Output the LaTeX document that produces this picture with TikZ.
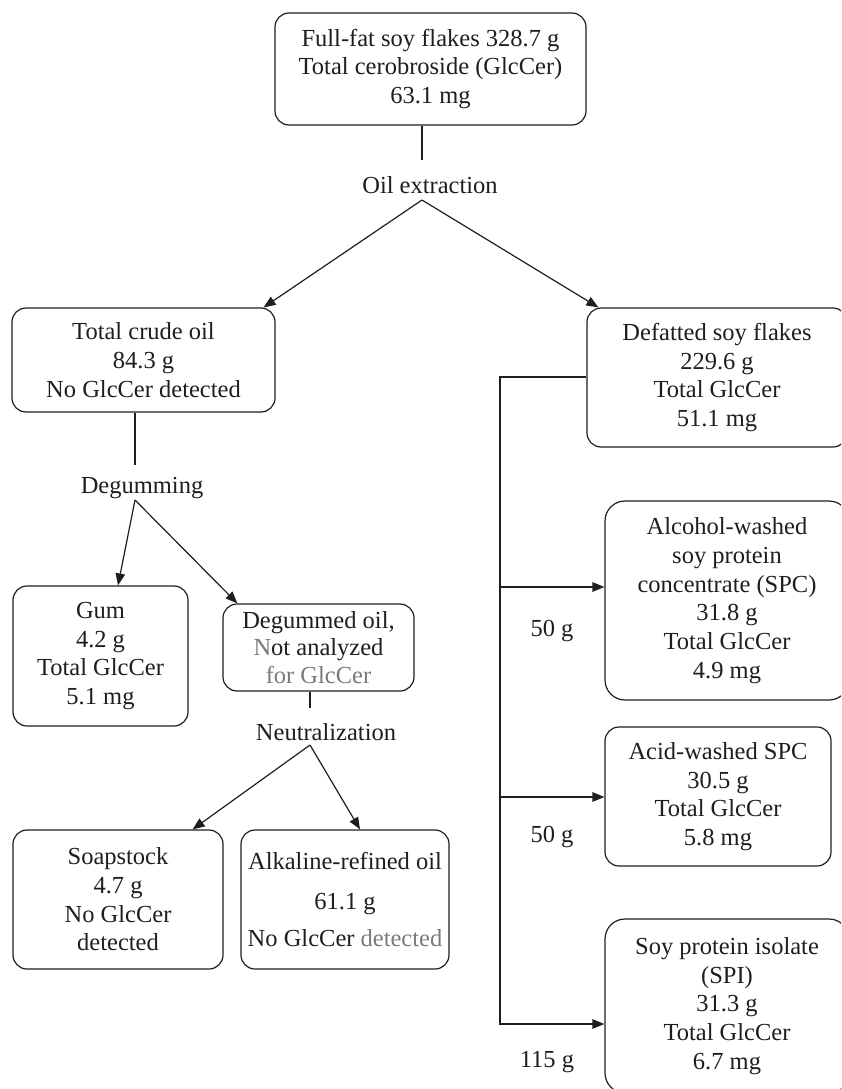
\documentclass[tikz,border=0pt]{standalone}
\usepackage{fontspec}
\setmainfont{Liberation Serif}
\usetikzlibrary{arrows.meta}
\definecolor{ink}{HTML}{1E1E1E}
\definecolor{lightink}{HTML}{7A7A7A}
\begin{document}
\begin{tikzpicture}[x=1pt,y=-1pt,
  every node/.style={text=ink, font=\fontsize{24.5pt}{28.7pt}\selectfont},
  box/.style={draw=ink, line width=1.2pt, rounded corners=14pt, align=center, inner sep=0pt},
  lbl/.style={inner sep=0pt, align=center},
  conn/.style={draw=ink, line width=1.2pt},
  arr/.style={conn, -{Triangle[length=12pt,width=9.5pt]}}]
\useasboundingbox (0,0) rectangle (841,1089);
\clip (0,0) rectangle (841,1089);

% boxes
\node[box, minimum width=311pt, minimum height=112pt] (top) at (430.5,69)
  {Full-fat soy flakes 328.7 g\\Total cerobroside (GlcCer)\\63.1 mg};
\node[box, minimum width=263pt, minimum height=104pt] (crude) at (143.5,360)
  {Total crude oil\\84.3 g\\No GlcCer detected};
\node[box, minimum width=260pt, minimum height=139pt] (defat) at (717,377.5)
  {Defatted soy flakes\\229.6 g\\Total GlcCer\\51.1 mg};
\node[box, minimum width=175pt, minimum height=140pt] (gum) at (100.5,656)
  {Gum\\4.2 g\\Total GlcCer\\5.1 mg};
\node[box, minimum width=191pt, minimum height=87pt, font=\fontsize{24.5pt}{27.5pt}\selectfont] (degum) at (318.5,647.5)
  {Degummed oil,\\{\color{lightink}N}ot analyzed\\{\color{lightink}for GlcCer}};
\node[box, minimum width=210pt, minimum height=139pt] (soap) at (118,899.5)
  {Soapstock\\4.7 g\\No GlcCer\\detected};
\node[box, minimum width=208pt, minimum height=139pt] (alk) at (345,899.5)
  {Alkaline-refined oil\\[11pt]61.1 g\\[9pt]No GlcCer {\color{lightink}detected}};
\node[box, rounded corners=20pt, minimum width=244pt, minimum height=199pt] (spc) at (727,600.5)
  {Alcohol-washed\\soy protein\\concentrate (SPC)\\31.8 g\\Total GlcCer\\4.9 mg};
\node[box, minimum width=226pt, minimum height=139pt] (acid) at (718,796.5)
  {Acid-washed SPC\\30.5 g\\Total GlcCer\\5.8 mg};
\node[box, rounded corners=20pt, minimum width=244pt, minimum height=174pt] (spi) at (727,1006)
  {Soy protein isolate\\(SPI)\\31.3 g\\Total GlcCer\\6.7 mg};

% process labels
\node[lbl] (oil) at (430,185) {Oil extraction};
\node[lbl] (degumming) at (142,488) {Degumming};
\node[lbl] (neut) at (326,732) {Neutralization};

% mass labels
\node[lbl] (w1) at (552,631) {50 g};
\node[lbl] (w2) at (552,837) {50 g};
\node[lbl] (w3) at (547,1062) {115 g};

% helper coordinates
\coordinate (oilT) at (422,160);
\coordinate (oilA) at (422,200);
\coordinate (degT) at (135,465);
\coordinate (degA) at (135,500);
\coordinate (neuT) at (310,708);
\coordinate (neuA) at (310,745);
\coordinate (tr0) at (500,377);
\coordinate (b1) at (500,587);
\coordinate (b2) at (500,797);
\coordinate (b3) at (500,1024);

% connectors
\draw[conn] (top.south -| oilT) -- (oilT);
\draw[arr] (oilA) -- ([xshift=-12pt]crude.north east);
\draw[arr] (oilA) -- ([xshift=12pt]defat.north west);

\draw[conn] (crude.south -| degT) -- (degT);
\draw[arr] (degA) -- ([xshift=17.5pt]gum.north);
\draw[arr] (degA) -- ([xshift=15pt]degum.north west);

\draw[conn] (degum.south -| neuT) -- (neuT);
\draw[arr] (neuA) -- ([xshift=-31pt]soap.north east);
\draw[arr] (neuA) -- ([xshift=15pt]alk.north);

\draw[arr] (defat.west |- tr0) -- (tr0) -- (b3) -- (b3 -| spi.west);
\draw[arr] (b1) -- (b1 -| spc.west);
\draw[arr] (b2) -- (b2 -| acid.west);
\end{tikzpicture}
\end{document}
